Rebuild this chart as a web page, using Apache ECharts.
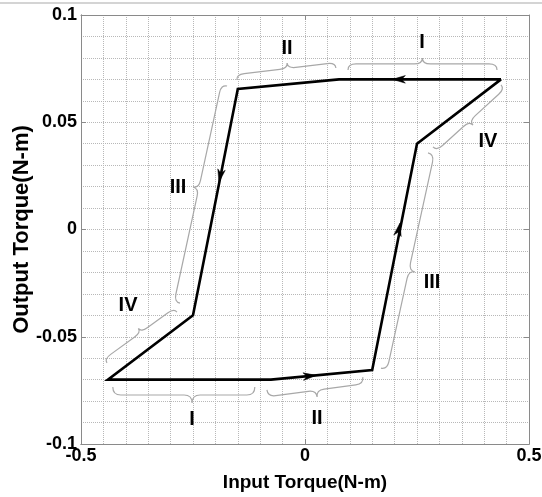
<!DOCTYPE html>
<html><head><meta charset="utf-8">
<script src="https://cdn.jsdelivr.net/npm/echarts@6/dist/echarts.min.js"></script>
<style>html,body{margin:0;padding:0;background:#fff}#c{width:542px;height:497px}</style>
</head><body><div id="c"></div><script>
// hysteresis loop vertices (input torque, output torque)
const loopX = [0.4375, 0.076, -0.15, -0.25, -0.44, -0.076, 0.15, 0.25, 0.4375];
const loopY = [0.07, 0.07, 0.0655, -0.04, -0.07, -0.07, -0.0655, 0.04, 0.07];
// arrow heads: tip position and the loop segment they follow
const arrowX = [0.195, -0.192, 0.025, 0.212];
const arrowY = [0.07, 0.022, -0.068, 0.003];
const arrowSeg = [0, 2, 5, 6];
// braces: end 1, end 2, tip
const braceX1 = [0.096, -0.152, -0.174, -0.286, -0.429, -0.085, 0.2746, 0.4375];
const braceY1 = [0.0744, 0.0697, 0.0669, -0.0385, -0.0734, -0.0748, 0.0357, 0.0674];
const braceX2 = [0.4286, 0.069, -0.279, -0.442, -0.112, 0.129, 0.1696, 0.2857];
const braceY2 = [0.0744, 0.0753, -0.0343, -0.0622, -0.0734, -0.0688, -0.0646, 0.0385];
const braceTX = [0.262, -0.040, -0.250, -0.372, -0.252, 0.027, 0.2455, 0.375];
const braceTY = [0.080, 0.0776, 0.0198, -0.0461, -0.0809, -0.0781, -0.0198, 0.0487];
// region labels
const regionText = ['I', 'II', 'III', 'IV', 'I', 'II', 'III', 'IV'];
const regionX = [0.261, -0.040, -0.2835, -0.395, -0.252, 0.027, 0.2835, 0.4085];
const regionY = [0.0874, 0.0846, 0.0198, -0.0352, -0.0888, -0.0879, -0.0245, 0.0408];

// axis ticks / grid spacing
const xMin = -0.5, xMax = 0.5, xTickStep = 0.5, xGridStep = 0.05;
const yMin = -0.1, yMax = 0.1, yTickStep = 0.05, yGridStep = 0.01;

const xTitle = 'Input Torque(N-m)';
const yTitle = 'Output Torque(N-m)';

const FONT = '"Liberation Sans", Arial, sans-serif';
const gridLine = { show: true, lineStyle: { type: 'dotted', color: '#b8b8b8', width: 1 } };
const frame = { show: true, onZero: false, lineStyle: { color: '#8a8a8a', width: 1 } };
const tick = { show: true, inside: true, length: 5, lineStyle: { color: '#8a8a8a' } };
const lbl = { color: '#000', fontFamily: FONT, fontWeight: 'bold', fontSize: 18 };
const isMult = (v, step) => Math.abs(v / step - Math.round(v / step)) < 1e-6;

const chart = echarts.init(document.getElementById('c'), null, { renderer: 'canvas' });

const tickAxis = (pos, min, max, step) => ({
  type: 'value', min: min, max: max, interval: step, position: pos,
  axisLine: frame, axisTick: tick, axisLabel: { show: false }, splitLine: { show: false }
});

chart.setOption({
  animation: false,
  backgroundColor: '#fff',
  graphic: [{ type: 'line', shape: { x1: 0, y1: 3, x2: 542, y2: 3 }, style: { stroke: '#d4d4d4', lineWidth: 2 } }],
  grid: { left: 81, right: 13, top: 15, bottom: 53, containLabel: false, outerBoundsMode: 'none' },
  xAxis: [{
    type: 'value', min: xMin, max: xMax, interval: xGridStep, position: 'bottom',
    axisLine: frame, axisTick: { show: false },
    axisLabel: Object.assign({ margin: 3, showMinLabel: true, showMaxLabel: true, hideOverlap: false,
      formatter: v => isMult(v, xTickStep) ? String(Math.round(v / xTickStep) * xTickStep) : '' }, lbl),
    splitLine: gridLine,
    name: xTitle, nameLocation: 'middle', nameGap: 29,
    nameTextStyle: { color: '#000', fontFamily: FONT, fontWeight: 'bold', fontSize: 19 }
  },
  tickAxis('top', xMin, xMax, xTickStep),
  tickAxis('bottom', xMin, xMax, xTickStep)],
  yAxis: [{
    type: 'value', min: yMin, max: yMax, interval: yGridStep, position: 'left',
    axisLine: frame, axisTick: { show: false },
    axisLabel: Object.assign({ margin: 4, showMinLabel: true, showMaxLabel: true, hideOverlap: false,
      formatter: v => isMult(v, yTickStep) ? String(+(Math.round(v / yTickStep) * yTickStep).toFixed(2)) : '' }, lbl),
    splitLine: gridLine,
    name: yTitle, nameLocation: 'middle', nameGap: 48, nameMoveOverlap: false,
    nameTextStyle: { color: '#000', fontFamily: FONT, fontWeight: 'bold', fontSize: 22 }
  },
  tickAxis('right', yMin, yMax, yTickStep),
  tickAxis('left', yMin, yMax, yTickStep)],
  series: [
    {
      type: 'custom', coordinateSystem: 'cartesian2d', silent: true, z: 2,
      data: braceX1.map((v, i) => [v, braceY1[i], braceX2[i], braceY2[i], braceTX[i], braceTY[i]]),
      renderItem: function (params, api) {
        const a = api.coord([api.value(0), api.value(1)]);
        const b = api.coord([api.value(2), api.value(3)]);
        const t = api.coord([api.value(4), api.value(5)]);
        const dx = b[0] - a[0], dy = b[1] - a[1];
        const L = Math.hypot(dx, dy);
        const u = [dx / L, dy / L];
        let n = [-u[1], u[0]];
        const tx = t[0] - a[0], ty = t[1] - a[1];
        let h = n[0] * tx + n[1] * ty;
        if (h < 0) { n = [-n[0], -n[1]]; h = -h; }
        const s = u[0] * tx + u[1] * ty;
        const r = 8;
        const P = (along, off) => [a[0] + u[0] * along + n[0] * off, a[1] + u[1] * along + n[1] * off];
        const f = p => p[0].toFixed(2) + ' ' + p[1].toFixed(2);
        const hh = h / 2;
        const d = 'M' + f(P(0, 0)) +
          ' Q' + f(P(0, hh)) + ' ' + f(P(r, hh)) +
          ' L' + f(P(s - r, hh)) +
          ' Q' + f(P(s, hh)) + ' ' + f(P(s, h)) +
          ' Q' + f(P(s, hh)) + ' ' + f(P(s + r, hh)) +
          ' L' + f(P(L - r, hh)) +
          ' Q' + f(P(L, hh)) + ' ' + f(P(L, 0));
        return { type: 'path', shape: { pathData: d }, style: { stroke: '#a8a8a8', fill: null, lineWidth: 1.2 } };
      }
    },
    {
      type: 'line', silent: true, z: 3, showSymbol: false, symbol: 'none',
      data: loopX.map((v, i) => [v, loopY[i]]),
      lineStyle: { color: '#000', width: 2.6, join: 'miter' }
    },
    {
      type: 'custom', coordinateSystem: 'cartesian2d', silent: true, z: 4,
      data: arrowX.map((v, i) => [v, arrowY[i], arrowSeg[i]]),
      renderItem: function (params, api) {
        const k = api.value(2);
        const p = api.coord([api.value(0), api.value(1)]);
        const s0 = api.coord([loopX[k], loopY[k]]);
        const s1 = api.coord([loopX[k + 1], loopY[k + 1]]);
        const L = Math.hypot(s1[0] - s0[0], s1[1] - s0[1]);
        const d = [(s1[0] - s0[0]) / L, (s1[1] - s0[1]) / L];
        const n = [-d[1], d[0]];
        const len = 13, w = 3.8;
        const pts = [
          p,
          [p[0] - d[0] * len + n[0] * w, p[1] - d[1] * len + n[1] * w],
          [p[0] - d[0] * len * 0.72, p[1] - d[1] * len * 0.72],
          [p[0] - d[0] * len - n[0] * w, p[1] - d[1] * len - n[1] * w]
        ];
        return { type: 'polygon', shape: { points: pts }, style: { fill: '#000', stroke: '#000', lineWidth: 0.5 } };
      }
    },
    {
      type: 'custom', coordinateSystem: 'cartesian2d', silent: true, z: 5,
      data: regionX.map((v, i) => [v, regionY[i], i]),
      renderItem: function (params, api) {
        const p = api.coord([api.value(0), api.value(1)]);
        return {
          type: 'text', x: p[0], y: p[1],
          style: {
            text: regionText[api.value(2)], fill: '#000', align: 'center', verticalAlign: 'middle',
            font: 'bold 20px ' + FONT
          }
        };
      }
    }
  ]
});
</script></body></html>
